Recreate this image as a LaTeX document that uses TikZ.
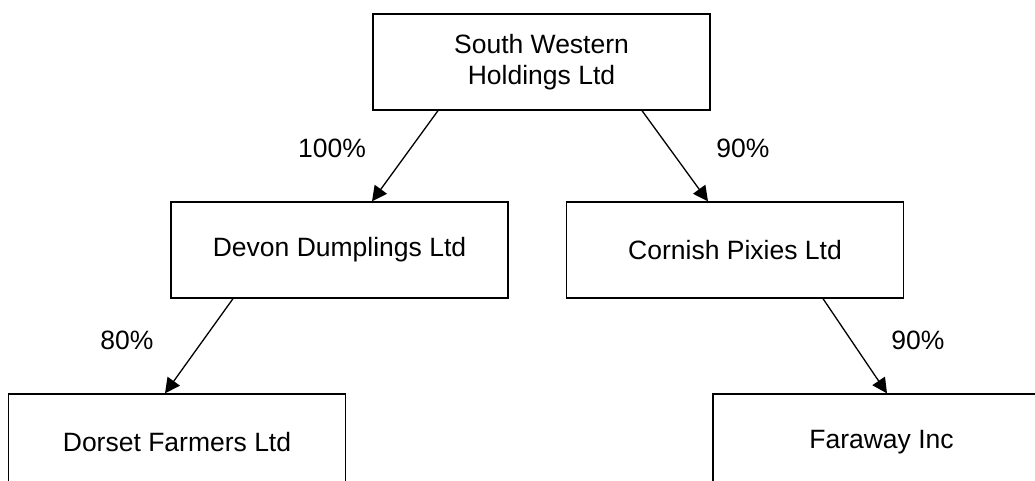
\documentclass[tikz,border=0pt]{standalone}
\usepackage{fontspec}
\setmainfont{Liberation Sans}
\usetikzlibrary{arrows.meta}
\tikzstyle{firm} = [rectangle, draw, line width=1.3pt, minimum width=337pt,
    minimum height=96pt, align=center, inner sep=0pt,
    font=\fontsize{26.5}{31}\selectfont]
\tikzstyle{share} = [font=\fontsize{26.5}{31}\selectfont, inner sep=0pt]

\begin{document}
\begin{tikzpicture}[x=1pt,y=-1pt,->,>={Triangle[length=15pt,width=15pt]},
                    line width=1.3pt]
  \clip (0,0) rectangle (1035,481);
  \node[firm] (swh)     at (541.5,62)  {South Western\\Holdings Ltd};
  \node[firm] (devon)   at (339.5,250) {Devon Dumplings Ltd};
  \node[firm] (cornish) at (735,250)   {Cornish Pixies Ltd};
  \node[firm] (dorset)  at (177,442)   {Dorset Farmers Ltd};
  \node[firm] (faraway) at (881.5,442) {Faraway Inc};

  \node[share] (p1) at (332,148) {100\%};
  \node[share] (p2) at (743,148) {90\%};
  \node[share] (p3) at (127,340) {80\%};
  \node[share] (p4) at (918,340) {90\%};

  \path ([xshift=-103.5pt]swh.south)   edge ([xshift=32.5pt]devon.north)
        ([xshift=100.5pt]swh.south)    edge ([xshift=-27pt]cornish.north)
        ([xshift=-106.5pt]devon.south) edge ([xshift=-12pt]dorset.north)
        ([xshift=88pt]cornish.south)   edge ([xshift=5.5pt]faraway.north);
\end{tikzpicture}
\end{document}
